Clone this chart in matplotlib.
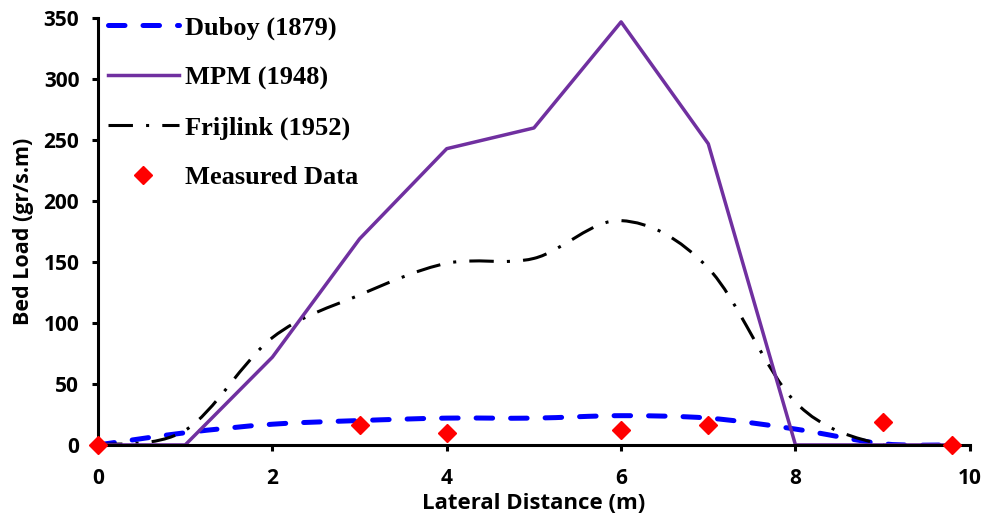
import numpy as np
import matplotlib.pyplot as plt
from matplotlib.path import Path
from matplotlib.patches import PathPatch
from matplotlib.lines import Line2D

# lateral positions (m)
x = [0, 1, 2, 3, 4, 5, 6, 7, 8, 9, 9.8]

# bed load (gr/s.m)
duboy = [0, 10, 17, 20, 22, 22, 24, 22, 13, 1, 0]
mpm = [0, 0, 72, 169, 243, 260, 347, 247, 0, 0, 0]
frijlink = [0, 12, 88, 123, 149, 153, 184, 145, 35, 0, 0]

meas_x = [0, 3, 4, 6, 7, 9, 9.8]
meas_y = [0, 16, 9.5, 12, 16.5, 19, 0]


def smoothPath(xs, ys):
    '''
    Excel-like smoothed line: cubic bezier through every point
    (catmull-rom control points).
    '''
    P = np.column_stack([xs, ys]).astype(float)
    n = len(P)
    verts = [P[0]]
    codes = [Path.MOVETO]
    for i in range(n - 1):
        p0 = P[max(i - 1, 0)]
        p1 = P[i]
        p2 = P[i + 1]
        p3 = P[min(i + 2, n - 1)]
        c1 = p1 + (p2 - p0) / 6.0
        c2 = p2 - (p3 - p1) / 6.0
        verts += [c1, c2, p2]
        codes += [Path.CURVE4] * 3
    return Path(verts, codes)


fig = plt.figure(figsize=(9.84, 5.21), dpi=100)
ax = fig.add_axes([0.0996, 0.146, 0.886, 0.819])

blue = '#0000FF'
purple = '#7030A0'
blue_ls = (0, (3.3, 3.6))
black_ls = (0, (8, 4.3, 1, 4.3))

ax.add_patch(PathPatch(smoothPath(x, duboy), fill=False, edgecolor=blue,
                       lw=3.6, linestyle=blue_ls, capstyle='round'))
ax.plot(x, mpm, color=purple, lw=2.5)
ax.add_patch(PathPatch(smoothPath(x, frijlink), fill=False, edgecolor='black',
                       lw=2.2, linestyle=black_ls))
ax.plot(meas_x, meas_y, linestyle='none', marker='D', color='#FF0000',
        markersize=9, clip_on=False, zorder=5)

ax.set_xlim(0, 10)
ax.set_ylim(0, 350)
ax.set_xticks(range(0, 11, 2))
ax.set_yticks(range(0, 351, 50))

for s in ['top', 'right']:
    ax.spines[s].set_visible(False)
for s in ['left', 'bottom']:
    ax.spines[s].set_linewidth(2.2)
ax.tick_params(direction='out', width=2.2, length=4.5, labelsize=15)
ax.tick_params(axis='x', pad=12)
ax.tick_params(axis='y', pad=9)
for lab in ax.get_xticklabels() + ax.get_yticklabels():
    lab.set_fontweight('bold')
    lab.set_family('Open Sans')

ax.set_xlabel('Lateral Distance (m)', fontsize=16, fontweight='bold',
              family='Open Sans', labelpad=3)
ax.set_ylabel('Bed Load (gr/s.m)', fontsize=15.5, fontweight='bold',
              family='Open Sans', labelpad=7)

handles = [
    Line2D([], [], color=blue, lw=3.6, linestyle=blue_ls, dash_capstyle='round'),
    Line2D([], [], color=purple, lw=2.5),
    Line2D([], [], color='black', lw=2.2, linestyle=black_ls),
    Line2D([], [], color='#FF0000', marker='D', linestyle='none', markersize=9),
]
labels = ['Duboy (1879)', 'MPM (1948)', 'Frijlink (1952)', 'Measured Data']
ax.legend(handles, labels, loc='upper left', bbox_to_anchor=(-0.007, 1.042),
          frameon=False, handlelength=2.7, handletextpad=0.23,
          labelspacing=0.98, borderaxespad=0.2,
          prop={'family': 'Liberation Serif', 'weight': 'bold', 'size': 19})

fig.savefig('out.png', dpi=100)
